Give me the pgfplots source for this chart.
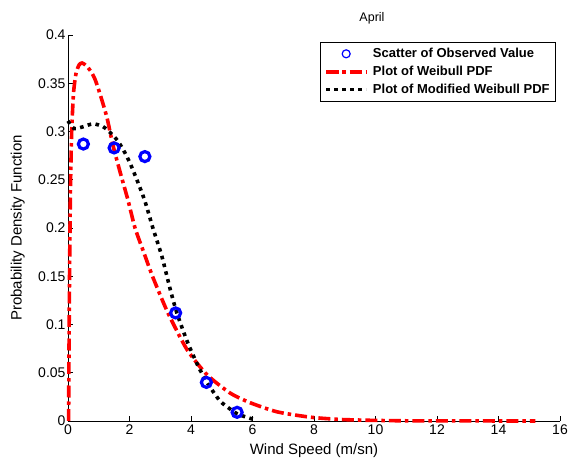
\documentclass[border=0pt]{standalone}
\usepackage{pgfplots}
\pgfplotsset{compat=1.18}
\usepackage{fontspec}
\setmainfont{Liberation Sans}
\begin{document}
\begin{tikzpicture}
\path[use as bounding box] (0pt,0pt) rectangle (568pt,463pt);
\begin{axis}[
  at={(68pt,42pt)}, anchor=south west,
  scale only axis, width=492pt, height=386pt,
  xmin=0, xmax=16, ymin=0, ymax=0.4,
  xtick={0,2,...,16},
  ytick={0,0.05,0.1,0.15,0.2,0.25,0.3,0.35,0.4},
  yticklabels={0,0.05,0.1,0.15,0.2,0.25,0.3,0.35,0.4},
  axis lines=left, axis line style={-, line width=0.8pt},
  tick align=inside, major tick length=5pt,
  tick style={line width=0.6pt, black},
  /pgf/number format/assume math mode=true,
  tick label style={font=\fontsize{14}{16}\selectfont},
  yticklabel style={xshift=1pt},
  label style={font=\fontsize{15}{17}\selectfont},
  xlabel={Wind Speed (m/sn)},
  ylabel={Probability Density Function},
  xlabel style={at={(axis description cs:0.5,-0.076)}, anchor=center},
  ylabel style={at={(axis description cs:-0.102,0.5)}, anchor=center},
  clip=false,
  legend style={at={(rel axis cs:0.992,0.982)}, anchor=north east,
    draw=black, line width=0.8pt, fill=white,
    font=\bfseries\fontsize{13}{15}\selectfont,
    row sep=3pt, column sep=3pt, inner xsep=4pt, inner ysep=4pt},
  legend cell align=left,
  legend image code/.code={\draw[mark repeat=2,mark phase=2,#1] plot coordinates {(0pt,0pt) (20pt,0pt) (40pt,0pt)};},
]
\addplot[only marks, mark=o, draw=blue, line width=3.2pt, mark size=5pt,
  legend image post style={line width=1.2pt, mark size=4pt}]
  coordinates {(0.5,0.287) (1.5,0.283) (2.5,0.274) (3.5,0.112) (4.5,0.040) (5.5,0.009)};
\addlegendentry{Scatter of Observed Value}
\addplot[red, line width=3.6pt, smooth, tension=0.4,
  dash pattern=on 12pt off 4pt on 3.5pt off 4pt]
  coordinates {(0.02,0) (0.03,0.06) (0.05,0.15) (0.08,0.24) (0.12,0.30) (0.18,0.34)
    (0.26,0.36) (0.36,0.369) (0.46,0.371) (0.6,0.368) (0.75,0.362) (0.88,0.354)
    (1.05,0.338) (1.27,0.314) (1.46,0.286) (1.72,0.255) (1.95,0.229) (2.18,0.2)
    (2.45,0.176) (2.76,0.149) (3.25,0.112) (3.87,0.074) (4.52,0.048) (5.27,0.029)
    (5.92,0.019) (6.8,0.0095) (7.87,0.004) (8.85,0.0016) (10,0.0006) (11,0.0002)
    (12.5,0.0001) (15.2,0)};
\addlegendentry{Plot of Weibull PDF}
\addplot[black, line width=3.6pt, smooth, tension=0.4,
  dash pattern=on 3.6pt off 4.4pt]
  coordinates {(0,0.311) (0.2,0.303) (0.5,0.305) (0.82,0.308) (1.14,0.305) (1.37,0.299)
    (1.6,0.291) (1.8,0.281) (2.02,0.267) (2.24,0.25) (2.5,0.228) (2.77,0.199)
    (3.05,0.171) (3.32,0.137) (3.54,0.112) (3.87,0.083) (4.23,0.057) (4.52,0.040)
    (4.84,0.025) (5.0,0.019) (5.5,0.0075) (6.0,0.002) (6.1,0.001)};
\addlegendentry{Plot of Modified Weibull PDF}
\end{axis}
\node[font=\fontsize{12.5}{14}\selectfont] at (372pt,445pt) {April};
\end{tikzpicture}
\end{document}
